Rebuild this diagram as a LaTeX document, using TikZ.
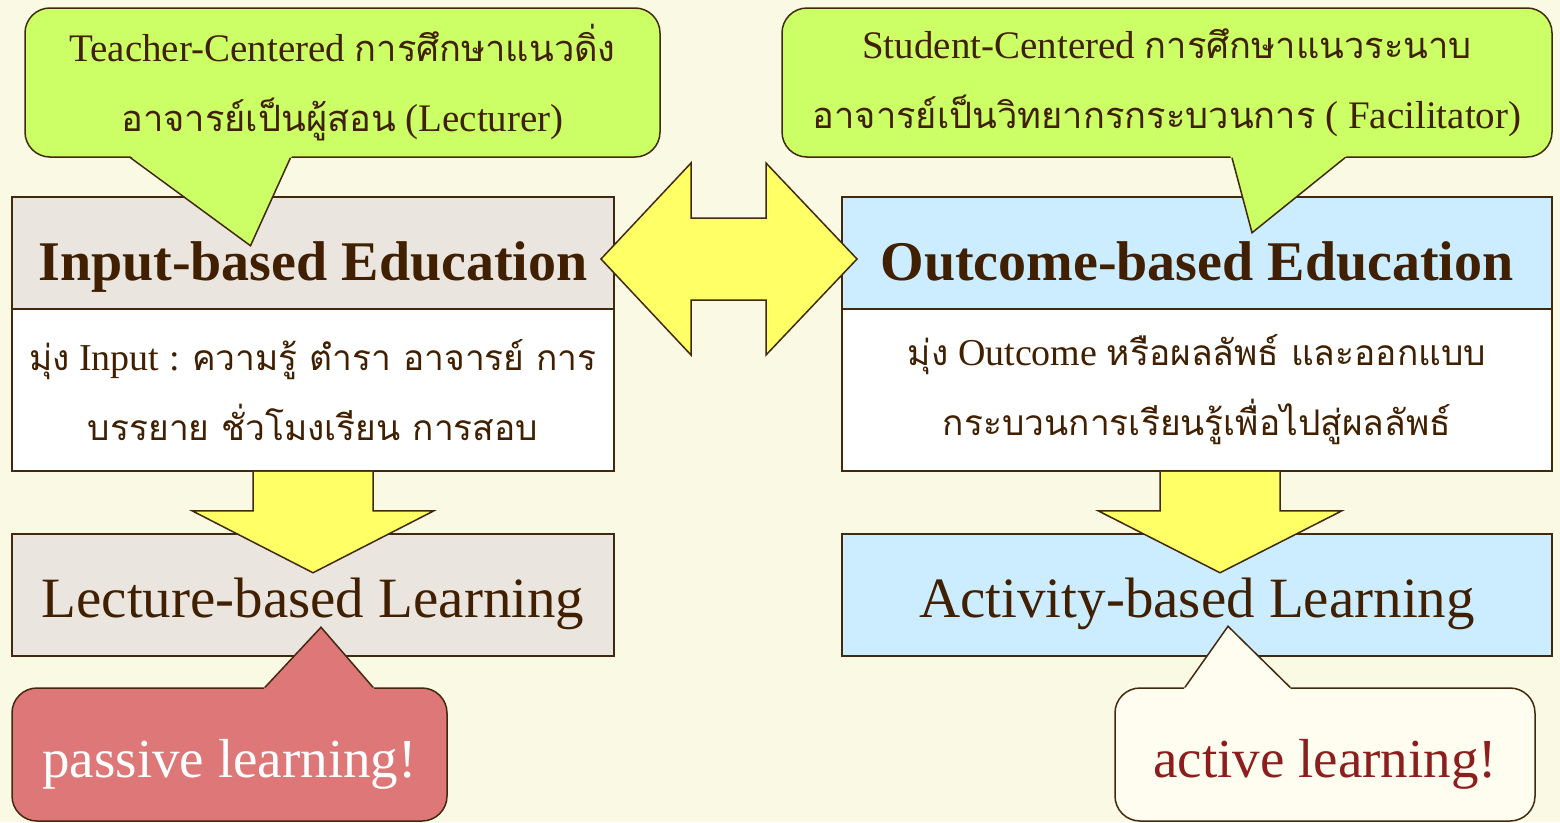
\documentclass[tikz,border=0pt]{standalone}
\usepackage{fontspec}
\setmainfont{Liberation Serif}
\newfontfamily\thaifont[Script=Thai,Scale=0.93]{Loma}
\newcommand{\thtxt}[1]{{\thaifont #1}}
\usetikzlibrary{calc}
\definecolor{obebg}{RGB}{250,250,228}
\definecolor{obeline}{RGB}{66,40,12}
\definecolor{obetext}{RGB}{64,32,0}
\definecolor{obegreen}{RGB}{204,255,102}
\definecolor{obebeige}{RGB}{234,229,223}
\definecolor{obeblue}{RGB}{204,236,255}
\definecolor{obeyellow}{RGB}{255,255,102}
\definecolor{obepink}{RGB}{222,119,119}
\definecolor{obecream}{RGB}{255,253,240}
\definecolor{obered}{RGB}{140,30,30}
\tikzstyle{box} = [draw=obeline, line width=1.5, text=obetext, inner sep=0, align=center]
\tikzstyle{headbox} = [box, minimum height=112, text height=56, text depth=2, font=\fontsize{56}{60}\selectfont\bfseries]
\tikzstyle{bodybox} = [box, fill=white, minimum height=162, font=\fontsize{38}{70}\selectfont]
\tikzstyle{learnbox} = [box, minimum height=122, text height=46, text depth=2, font=\fontsize{57}{60}\selectfont]
\tikzstyle{bubble} = [draw=obeline, line width=1.5, rounded corners=25, inner sep=0, align=center]
\tikzstyle{blockarrow} = [draw=obeline, line width=1.5, fill=obeyellow, line join=miter]

\begin{document}
\begin{tikzpicture}[x=1pt, y=-1pt]
\useasboundingbox[fill=obebg] (0,0) rectangle (1560,822);

% Input side
\node[headbox, fill=obebeige, minimum width=602] (inHead) at (313,253) {Input-based Education};
\node[bodybox, minimum width=602] (inBody) at (313,390)
  {\thtxt{มุ่ง} Input : \thtxt{ความรู้ ตำรา อาจารย์ การ}\\\thtxt{บรรยาย ชั่วโมงเรียน การสอบ}};
\node[learnbox, fill=obebeige, minimum width=602] (lecture) at (313,595) {Lecture-based Learning};

% Outcome side
\node[headbox, fill=obeblue, minimum width=710] (outHead) at (1197,253) {Outcome-based Education};
\node[bodybox, minimum width=710] (outBody) at (1197,390)
  {\thtxt{มุ่ง} Outcome \thtxt{หรือผลลัพธ์ และออกแบบ}\\\thtxt{กระบวนการเรียนรู้เพื่อไปสู่ผลลัพธ์}};
\node[learnbox, fill=obeblue, minimum width=710] (activity) at (1197,595) {Activity-based Learning};

% Arrows
\draw[blockarrow, shift={(inBody.south)}] (-60,0) -- (-60,39) -- (-121,39) -- (0,101)
  -- (121,39) -- (60,39) -- (60,0);
\draw[blockarrow, shift={($(outBody.south)+(23,0)$)}] (-60,0) -- (-60,39) -- (-122,39) -- (0,101)
  -- (122,39) -- (60,39) -- (60,0);
\draw[blockarrow, shift={($(inHead.east)!0.5!(outHead.west)+(1,6)$)}] (-128,0) -- (-38,-96) -- (-38,-41)
  -- (37,-41) -- (37,-96) -- (128,0) -- (37,96) -- (37,41) -- (-38,41) -- (-38,96) -- cycle;

% Callouts
\node[bubble, fill=obegreen, text=obetext, minimum width=635, minimum height=149,
  font=\fontsize{39}{70}\selectfont] (teacher) at (342.5,82.5)
  {Teacher-Centered \thtxt{การศึกษาแนวดิ่ง}\\\thtxt{อาจารย์เป็นผู้สอน} (Lecturer)};
\fill[obegreen, shift={(teacher.south)}] (-214,-3) -- (-92,88) -- (-50,-3) -- cycle;
\draw[obeline, line width=1.5, shift={(teacher.south)}] (-212,0) -- (-92,88) -- (-52,0);

\node[bubble, fill=obegreen, text=obetext, minimum width=770, minimum height=149,
  font=\fontsize{39}{70}\selectfont] (student) at (1167,82.5)
  {Student-Centered \thtxt{การศึกษาแนวระนาบ}\\\thtxt{อาจารย์เป็นวิทยากรกระบวนการ} ( Facilitator)};
\fill[obegreen, shift={(student.south)}] (63,-3) -- (85,75) -- (181,-3) -- cycle;
\draw[obeline, line width=1.5, shift={(student.south)}] (65,0) -- (85,75) -- (178,0);

\node[bubble, fill=obepink, text=white, minimum width=435, minimum height=133, text height=47, text depth=2,
  font=\fontsize{55}{60}\selectfont] (passive) at (229.5,754.5) {passive learning!};
\fill[obepink, shift={(passive.north)}] (33,3) -- (91.5,-60) -- (146,3) -- cycle;
\draw[obeline, line width=1.5, shift={(passive.north)}] (35.5,0) -- (91.5,-60) -- (143.5,0);

\node[bubble, fill=obecream, text=obered, minimum width=420, minimum height=133, text height=47, text depth=2,
  font=\fontsize{55}{60}\selectfont] (active) at (1325,754.5) {active learning!};
\fill[obecream, shift={(active.north)}] (-142,3) -- (-97,-61) -- (-33,3) -- cycle;
\draw[obeline, line width=1.5, shift={(active.north)}] (-140,0) -- (-97,-61) -- (-35,0);
\end{tikzpicture}
\end{document}
